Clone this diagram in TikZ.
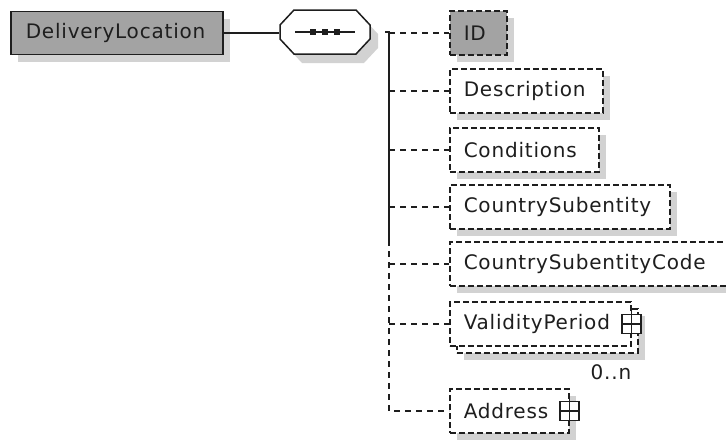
\documentclass[tikz,border=0pt]{standalone}
\usepackage{fontspec}
\newfontfamily\xsdfont[LetterSpace=4]{DejaVu Sans}
\usepackage{tikz}
\usetikzlibrary{positioning, shadows}
\definecolor{boxgray}{HTML}{A3A3A3}
\definecolor{shadegray}{HTML}{D2D2D2}
\definecolor{ink}{HTML}{1E1E1E}
\newcommand{\seqoutline}{(280,25) -- (294,10) -- (356,10) -- (370,25) -- (370,39) -- (356,54) -- (294,54) -- (280,39) -- cycle}

\begin{document}
\begin{tikzpicture}[x=1pt, y=-1pt, line width=1.5pt, draw=ink, text=ink,
	font=\xsdfont\fontsize{20}{24}\selectfont,
	shade/.style={drop shadow={shadow xshift=7pt, shadow yshift=-7pt, fill=shadegray, opacity=1}},
	elem/.style={draw, dash pattern=on 6pt off 3pt, fill=white, anchor=west,
		minimum height=44pt, inner xsep=14pt, inner ysep=0pt, align=left, text width=#1},
	conn/.style={dash pattern=on 6pt off 5pt},
	plusbox/.style={draw, solid, line width=1.7pt, fill=white, minimum size=19pt, inner sep=0pt}]
	\useasboundingbox (0,0) rectangle (726,440);

	% root element and sequence
	\node[draw, fill=boxgray, shade, anchor=west, minimum width=212pt, minimum height=43pt,
		inner xsep=15pt, align=left, text width=182pt] (root) at (10,33) {DeliveryLocation};
	\fill[shadegray, shift={(8,9)}] \seqoutline;
	\draw[fill=white] \seqoutline;
	\node[minimum width=90pt, minimum height=44pt, inner sep=0pt] (seq) at (325,32) {};
	\draw (root.east) -- (root.east -| seq.west);
	\draw (295,32) -- (355,32);
	\foreach \x in {313,325,337}{
		\fill[ink] (\x-3,29) rectangle +(6,6);
	}

	% children
	\node[elem=29pt, shade, fill=boxgray] (id) at (449,33) {ID};
	\foreach \nm/\lbl/\tw/\y in {desc/Description/125/91, cond/Conditions/121/150,
		subent/CountrySubentity/192/207, subcode/CountrySubentityCode/262/264}{
		\node[elem=\tw pt, shade] (\nm) at (449,\y) {\lbl};
	}
	\node[elem=153pt, shade] (vpback) at (456,331) {\phantom{ValidityPeriod}};
	\node[elem=153pt] (vp) at (449,324) {ValidityPeriod};
	\node[plusbox] (vpplus) at (vp.east) {};
	\draw (vpplus.west) -- (vpplus.east);
	\draw ([yshift=3pt]vpplus.north) -- ([yshift=-3pt]vpplus.south);
	\node[anchor=base east, inner sep=0pt] (vpcard) at (632,379) {0..n};
	\node[elem=91pt, shade] (addr) at (449,411) {Address};
	\node[plusbox] (addrplus) at (addr.east) {};
	\draw (addrplus.west) -- (addrplus.east);
	\draw ([yshift=3pt]addrplus.north) -- ([yshift=-3pt]addrplus.south);

	% connectors
	\coordinate (spinetop) at (389,32);
	\coordinate (spinemid) at (389,240);
	\draw ([xshift=-4pt]spinetop) -- (spinetop) -- (spinemid);
	\foreach \nm in {id,desc,cond,subent,subcode,vp}{
		\draw[conn] (spinetop |- \nm.west) -- (\nm.west);
	}
	\draw[conn] (spinemid) |- (addr.west);
\end{tikzpicture}
\end{document}
